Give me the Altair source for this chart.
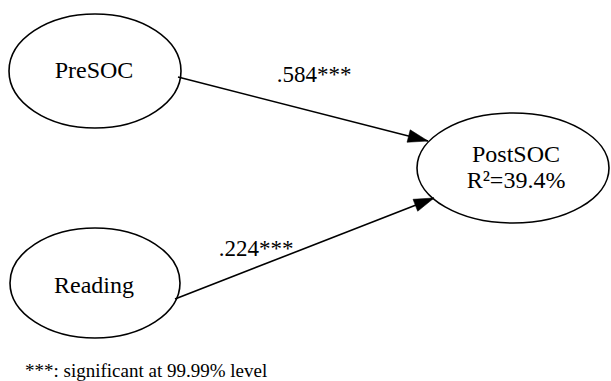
import altair as alt
import numpy as np
import pandas as pd

# Path model: nodes, path coefficients, explained variance
node_names = ["PreSOC", "Reading", "PostSOC"]
edge_from = ["PreSOC", "Reading"]
edge_to = ["PostSOC", "PostSOC"]
edge_labels = [".584***", ".224***"]
r_squared_label = "R\u00b2=39.4%"
footnote = "***: significant at 99.99% level"

# Diagram layout (pixel units of the canvas)
W, H = 611, 381
node_cx = [95, 95, 513]
node_cy = [71, 283, 168]
node_rx = [86, 85, 96]
node_ry = [57, 55, 55]
edge_start_x = [178, 175]
edge_start_y = [77, 299]
edge_end_x = [428, 434]
edge_end_y = [141, 198]
edge_label_x = [314, 256]
edge_label_y = [82, 256]

FONT = "Liberation Serif"

xs = alt.Scale(domain=[0, W], nice=False, zero=False)
ys = alt.Scale(domain=[0, H], nice=False, zero=False, reverse=True)


def ellipse_path(rx, ry):
    k = ry / rx
    return f"M -1 0 A 1 {k:.4f} 0 1 1 1 0 A 1 {k:.4f} 0 1 1 -1 0 Z"


nodes = pd.DataFrame({
    "name": node_names,
    "x": node_cx,
    "y": node_cy,
    "shape": [ellipse_path(a, b) for a, b in zip(node_rx, node_ry)],
    "size": [(2 * a) ** 2 for a in node_rx],
})

edges = pd.DataFrame({
    "source": edge_from,
    "target": edge_to,
    "label": edge_labels,
    "x": edge_start_x,
    "y": edge_start_y,
    "x2": edge_end_x,
    "y2": edge_end_y,
    "lx": edge_label_x,
    "ly": edge_label_y,
})
edges["angle"] = np.degrees(np.arctan2(edges["y2"] - edges["y"], edges["x2"] - edges["x"])) % 360

# Node label rows (PostSOC carries its R² on a second line)
labels = pd.DataFrame({
    "text": ["PreSOC", "Reading", "PostSOC", r_squared_label],
    "x": [94, 94, 516, 516],
    "y": [78, 293, 162, 188],
})

ellipses = alt.Chart(nodes).mark_point(
    filled=False, stroke="black", strokeWidth=1.6, opacity=1
).encode(
    x=alt.X("x:Q", scale=xs, axis=None),
    y=alt.Y("y:Q", scale=ys, axis=None),
    shape=alt.Shape("shape:N", scale=None, legend=None),
    size=alt.Size("size:Q", scale=None, legend=None),
)

lines = alt.Chart(edges).mark_rule(color="black", strokeWidth=1.6).encode(
    x=alt.X("x:Q", scale=xs, axis=None),
    y=alt.Y("y:Q", scale=ys, axis=None),
    x2="x2:Q",
    y2="y2:Q",
)

heads = alt.Chart(edges).mark_point(
    shape="M 0 0 L -1 -0.32 L -1 0.32 Z",
    filled=True, fill="black", stroke="black", strokeWidth=0.5, opacity=1, size=1600,
).encode(
    x=alt.X("x2:Q", scale=xs, axis=None),
    y=alt.Y("y2:Q", scale=ys, axis=None),
    angle=alt.Angle("angle:Q", scale=None),
)

edge_text = alt.Chart(edges).mark_text(
    font=FONT, fontSize=23, color="black", align="center", baseline="alphabetic"
).encode(
    x=alt.X("lx:Q", scale=xs, axis=None),
    y=alt.Y("ly:Q", scale=ys, axis=None),
    text="label:N",
)

node_text = alt.Chart(labels).mark_text(
    font=FONT, fontSize=24, color="black", align="center", baseline="alphabetic"
).encode(
    x=alt.X("x:Q", scale=xs, axis=None),
    y=alt.Y("y:Q", scale=ys, axis=None),
    text="text:N",
)

note = alt.Chart(pd.DataFrame({"text": [footnote], "x": [25], "y": [377]})).mark_text(
    font=FONT, fontSize=19, color="black", align="left", baseline="alphabetic"
).encode(
    x=alt.X("x:Q", scale=xs, axis=None),
    y=alt.Y("y:Q", scale=ys, axis=None),
    text="text:N",
)

chart = alt.layer(lines, heads, ellipses, edge_text, node_text, note).properties(
    width=W, height=H, padding=0, autosize=alt.AutoSizeParams(type="none"),
    background="white",
).configure_view(stroke=None)

chart.save("out.html", embed_options={"renderer": "svg", "actions": False})
